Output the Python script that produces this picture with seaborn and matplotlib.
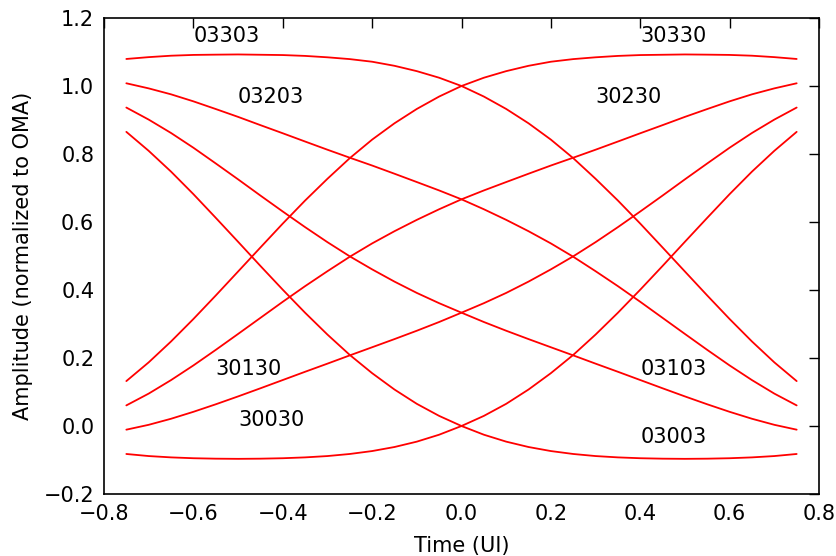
import numpy as np
import pandas as pd
import matplotlib
matplotlib.use("Agg")
import matplotlib.pyplot as plt
import seaborn as sns

# Time axis (UI)
time_ui = [-0.75, -0.70, -0.65, -0.60, -0.55, -0.50, -0.45, -0.40, -0.35, -0.30,
           -0.25, -0.20, -0.15, -0.10, -0.05, 0.00, 0.05, 0.10, 0.15, 0.20,
           0.25, 0.30, 0.35, 0.40, 0.45, 0.50, 0.55, 0.60, 0.65, 0.70, 0.75]

# Amplitude (normalized to OMA) for each symbol pattern
s30030 = [-0.0823, -0.0884, -0.0923, -0.0948, -0.0961, -0.0966, -0.0961, -0.0948, -0.0923, -0.0884,
          -0.0823, -0.0737, -0.0618, -0.0460, -0.0256, 0.0000, 0.0297, 0.0652, 0.1073, 0.1554,
          0.2090, 0.2689, 0.3331, 0.4009, 0.4708, 0.5419, 0.6124, 0.6820, 0.7482, 0.8093, 0.8651]
s30130 = [-0.0108, 0.0035, 0.0213, 0.0417, 0.0638, 0.0870, 0.1109, 0.1352, 0.1595, 0.1834,
          0.2077, 0.2316, 0.2556, 0.2802, 0.3059, 0.3333, 0.3612, 0.3914, 0.4247, 0.4607,
          0.4990, 0.5407, 0.5849, 0.6309, 0.6778, 0.7255, 0.7723, 0.8185, 0.8618, 0.9012, 0.9366]
s30230 = [0.0606, 0.0953, 0.1350, 0.1781, 0.2238, 0.2707, 0.3180, 0.3653, 0.4113, 0.4553,
          0.4978, 0.5370, 0.5729, 0.6063, 0.6375, 0.6667, 0.6928, 0.7175, 0.7420, 0.7661,
          0.7891, 0.8126, 0.8367, 0.8610, 0.8849, 0.9092, 0.9323, 0.9549, 0.9755, 0.9930, 1.0080]
s30330 = [0.1321, 0.1872, 0.2486, 0.3146, 0.3837, 0.4543, 0.5250, 0.5953, 0.6631, 0.7271,
          0.7878, 0.8423, 0.8903, 0.9325, 0.9690, 1.0000, 1.0243, 1.0437, 1.0594, 1.0714,
          1.0791, 1.0844, 1.0885, 1.0910, 1.0919, 1.0928, 1.0922, 1.0914, 1.0891, 1.0849, 1.0795]
s03003 = [0.8651, 0.8093, 0.7482, 0.6820, 0.6124, 0.5419, 0.4708, 0.4009, 0.3331, 0.2689,
          0.2090, 0.1554, 0.1073, 0.0652, 0.0297, 0.0000, -0.0256, -0.0460, -0.0618, -0.0737,
          -0.0823, -0.0884, -0.0923, -0.0948, -0.0961, -0.0966, -0.0961, -0.0948, -0.0923, -0.0884, -0.0823]
s03103 = [0.9366, 0.9012, 0.8618, 0.8185, 0.7723, 0.7255, 0.6778, 0.6309, 0.5849, 0.5407,
          0.4990, 0.4607, 0.4247, 0.3914, 0.3612, 0.3333, 0.3059, 0.2802, 0.2556, 0.2316,
          0.2077, 0.1834, 0.1595, 0.1352, 0.1109, 0.0870, 0.0638, 0.0417, 0.0213, 0.0035, -0.0108]
s03203 = [1.0080, 0.9930, 0.9755, 0.9549, 0.9323, 0.9092, 0.8849, 0.8610, 0.8367, 0.8126,
          0.7891, 0.7661, 0.7420, 0.7175, 0.6928, 0.6667, 0.6375, 0.6063, 0.5729, 0.5370,
          0.4978, 0.4553, 0.4113, 0.3653, 0.3180, 0.2707, 0.2238, 0.1781, 0.1350, 0.0953, 0.0606]
s03303 = [1.0795, 1.0849, 1.0891, 1.0914, 1.0922, 1.0928, 1.0919, 1.0910, 1.0885, 1.0844,
          1.0791, 1.0714, 1.0594, 1.0437, 1.0243, 1.0000, 0.9690, 0.9325, 0.8903, 0.8423,
          0.7878, 0.7271, 0.6631, 0.5953, 0.5250, 0.4543, 0.3837, 0.3146, 0.2486, 0.1872, 0.1321]

patterns = ["03303", "03203", "03103", "03003", "30330", "30230", "30130", "30030"]
series = [s03303, s03203, s03103, s03003, s30330, s30230, s30130, s30030]

# label anchor positions (data coords, left/baseline)
label_x = [-0.6, -0.5, 0.4, 0.4, 0.4, 0.3, -0.55, -0.5]
label_y = [1.13, 0.95, 0.15, -0.05, 1.13, 0.95, 0.15, 0.0]

x_ticks = [-0.8, -0.6, -0.4, -0.2, 0.0, 0.2, 0.4, 0.6, 0.8]
y_ticks = [-0.2, 0.0, 0.2, 0.4, 0.6, 0.8, 1.0, 1.2]

rows = []
for name, vals in zip(patterns, series):
    for t, v in zip(time_ui, vals):
        rows.append({"time": t, "amp": v, "pattern": name})
df = pd.DataFrame(rows)

sns.set_theme(style="white")
plt.rcParams["font.family"] = ["DejaVu Sans"]
plt.rcParams["axes.unicode_minus"] = True

fig = plt.figure(figsize=(8.36, 5.56), dpi=100)
ax = fig.add_axes([104 / 836, 1 - 494 / 556, (819 - 104) / 836, (494 - 18) / 556])

sns.lineplot(data=df, x="time", y="amp", hue="pattern", units="pattern",
             estimator=None, sort=False, palette={p: "#ff0000" for p in patterns},
             linewidth=1.3, legend=False, ax=ax)

for name, lx, ly in zip(patterns, label_x, label_y):
    ax.text(lx, ly, name, fontsize=15, color="black", ha="left", va="baseline")

ax.set_xlim(-0.8, 0.8)
ax.set_ylim(-0.2, 1.2)
ax.set_xticks(x_ticks)
ax.set_yticks(y_ticks)
ax.set_xticklabels([f"{v:.1f}".replace("-", "\u2212") for v in x_ticks])
ax.set_yticklabels([f"{v:.1f}".replace("-", "\u2212") for v in y_ticks])
ax.tick_params(axis="both", which="major", direction="in", length=7.5, width=1.0,
               top=True, right=True, labelsize=15, pad=7, colors="black")
for sp in ax.spines.values():
    sp.set_color("black")
    sp.set_linewidth(1.2)
    sp.set_visible(True)
ax.set_xlabel("Time (UI)", fontsize=15, color="black", labelpad=8.5)
ax.set_ylabel("Amplitude (normalized to OMA)", fontsize=15, color="black", labelpad=7.5)
ax.set_facecolor("white")
fig.patch.set_facecolor("white")

fig.savefig("out.png", dpi=100)
